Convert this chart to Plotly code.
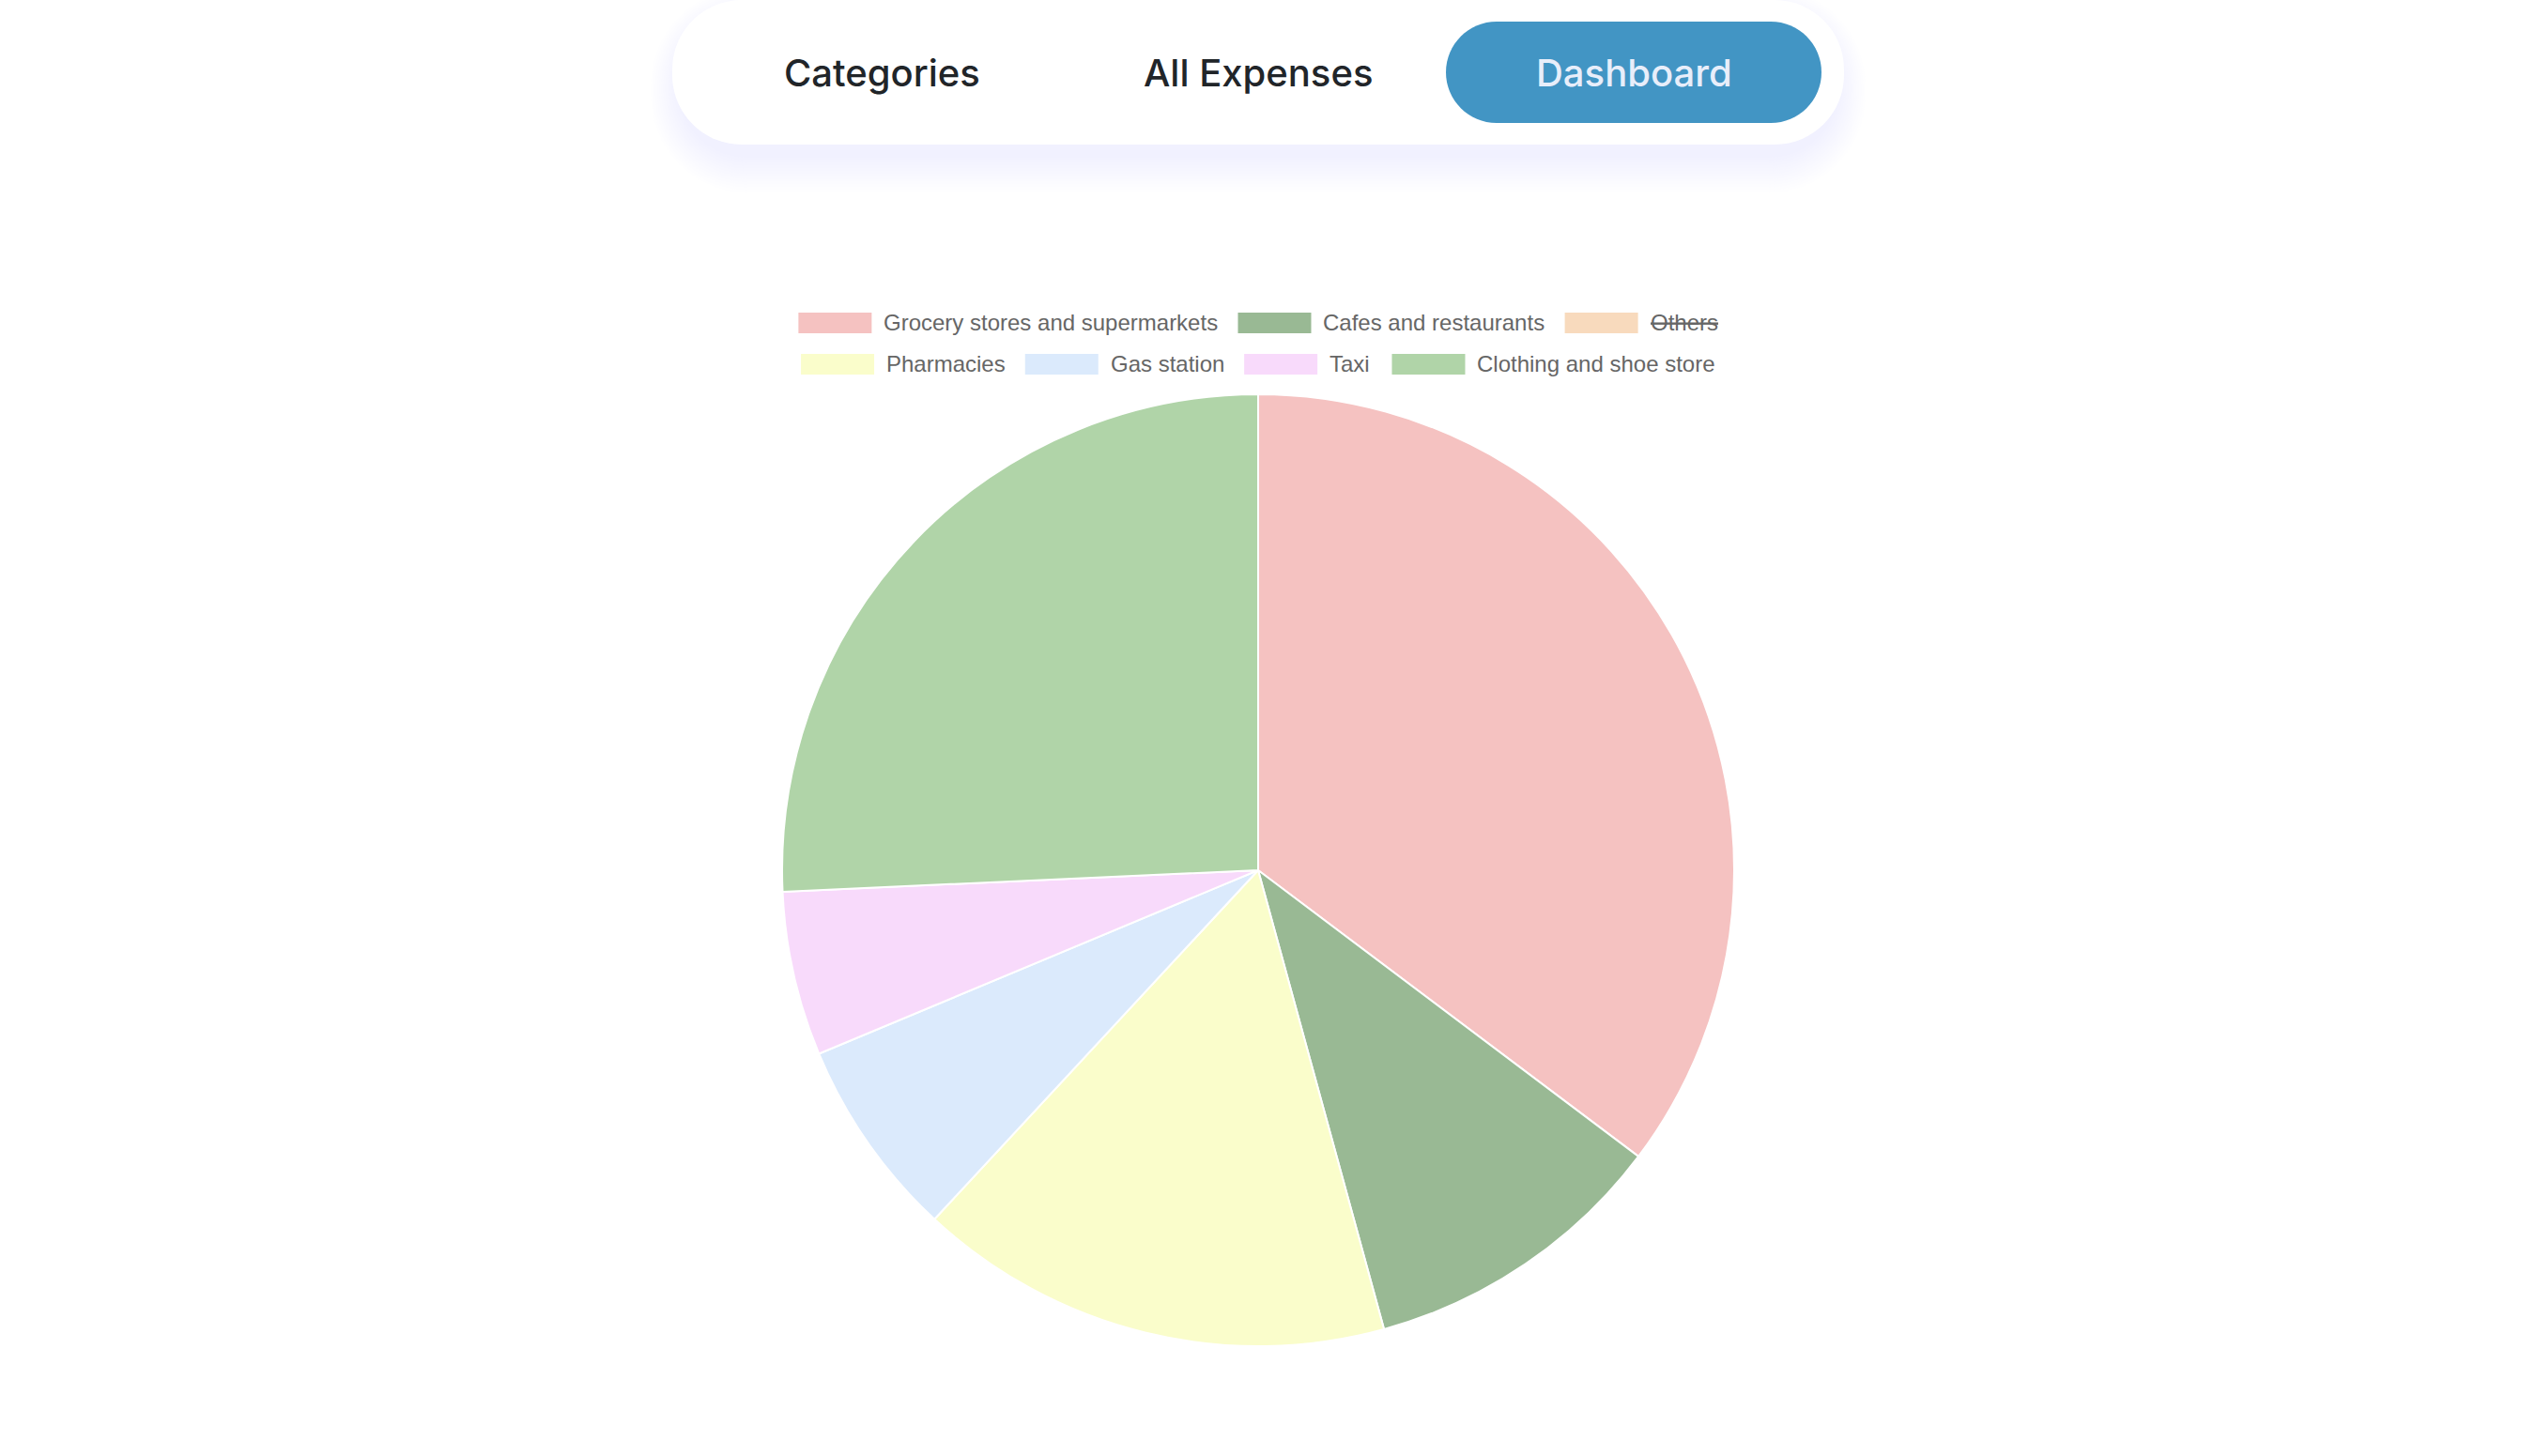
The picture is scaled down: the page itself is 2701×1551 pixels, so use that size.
import plotly.graph_objects as go

# ---------------- data ----------------
categories = ["Grocery stores and supermarkets", "Cafes and restaurants", "Others",
              "Pharmacies", "Gas station", "Taxi", "Clothing and shoe store"]
amounts = [3527, 1047, 1200, 1616, 680, 558, 2572]
slice_colors = ["#F5C2C1", "#99B994", "#F8DABD", "#FAFDCB", "#DBEAFC", "#F8DAFB", "#B0D4A8"]
hidden_categories = ["Others"]
nav_tabs = ["Categories", "All Expenses", "Dashboard"]
active_tab = "Dashboard"

# ---------------- layout constants (pixels) ----------------
W, H = 2701, 1551
PIE_CX, PIE_CY, PIE_R = 1340, 927, 507
NAV_BOX = (716, 0, 1964, 154, 74)
ACTIVE_BOX = (1540, 23, 1940, 131, 54)
TAB_CENTERS = [939, 1340, 1740]
TAB_Y = 77
LEG_FONT = 24
LEG_BOX_W, LEG_BOX_H = 78, 22
LEG_TEXT_PAD = 13
LEG_GAP = 21
LEG_MAX_W = 1100
LEG_ROW0_Y, LEG_ROW_STEP = 344, 44

ARIAL = {' ': 278, 'a': 556, 'b': 556, 'c': 500, 'd': 556, 'e': 556, 'f': 278, 'g': 556,
         'h': 556, 'i': 222, 'j': 222, 'k': 500, 'l': 222, 'm': 833, 'n': 556, 'o': 556,
         'p': 556, 'q': 556, 'r': 333, 's': 500, 't': 278, 'u': 556, 'v': 500, 'w': 722,
         'x': 500, 'y': 500, 'z': 500, 'A': 667, 'B': 667, 'C': 722, 'D': 722, 'E': 667,
         'F': 611, 'G': 778, 'H': 722, 'I': 278, 'J': 500, 'K': 667, 'L': 556, 'M': 833,
         'N': 722, 'O': 778, 'P': 667, 'Q': 778, 'R': 722, 'S': 667, 'T': 611, 'U': 722,
         'V': 667, 'W': 944, 'X': 667, 'Y': 667, 'Z': 611}


def text_w(s, size):
    return sum(ARIAL.get(ch, 556) for ch in s) * size / 1000.0


def pill(x0, y0, x1, y1, rad):
    k = 0.5523 * rad
    return (f"M{x0+rad},{y0} L{x1-rad},{y0} "
            f"C{x1-rad+k},{y0} {x1},{y0+rad-k} {x1},{y0+rad} "
            f"L{x1},{y1-rad} C{x1},{y1-rad+k} {x1-rad+k},{y1} {x1-rad},{y1} "
            f"L{x0+rad},{y1} C{x0+rad-k},{y1} {x0},{y1-rad+k} {x0},{y1-rad} "
            f"L{x0},{y0+rad} C{x0},{y0+rad-k} {x0+rad-k},{y0} {x0+rad},{y0} Z")


fig = go.Figure()

# invisible scaffold so the pixel-space axes exist
fig.add_trace(go.Scatter(x=[0], y=[0], mode="markers", marker=dict(opacity=0),
                         hoverinfo="skip", showlegend=False))

fig.add_trace(go.Pie(
    labels=categories,
    values=amounts,
    marker=dict(colors=slice_colors, line=dict(color="white", width=2)),
    sort=False,
    direction="clockwise",
    rotation=0,
    textinfo="none",
    showlegend=False,
    hoverinfo="label+value+percent",
    domain=dict(x=[(PIE_CX - PIE_R) / W, (PIE_CX + PIE_R) / W],
                y=[(H - PIE_CY - PIE_R) / H, (H - PIE_CY + PIE_R) / H]),
))

shapes = []
annotations = []

# nav bar shadow
x0, y0, x1, y1, rad = NAV_BOX
for k in range(14):
    g = 2.2 * k
    shapes.append(dict(type="path", xref="x", yref="y", layer="below",
                       path=pill(x0 + 6 - g, y0 + 16 - g, x1 - 6 + g, y1 + 14 + g * 1.3, rad + g),
                       fillcolor="rgba(195,198,242,0.02)", line=dict(width=0)))
shapes.append(dict(type="path", xref="x", yref="y", layer="below",
                   path=pill(x0, y0, x1, y1, rad), fillcolor="white", line=dict(width=0)))
ax0, ay0, ax1, ay1, arad = ACTIVE_BOX
shapes.append(dict(type="path", xref="x", yref="y", layer="below",
                   path=pill(ax0, ay0, ax1, ay1, arad), fillcolor="#4295C4",
                   line=dict(width=0)))

for tab, xc in zip(nav_tabs, TAB_CENTERS):
    active = tab == active_tab
    annotations.append(dict(
        x=xc, y=TAB_Y, xref="x", yref="y", text=tab, showarrow=False,
        xanchor="center", yanchor="middle",
        font=dict(family="Inter, Roboto, sans-serif", size=40, weight=500,
                  color="#E8EEFA" if active else "#212529")))

# legend (Chart.js-style flow layout, centred rows)
items = []
for lab, col in zip(categories, slice_colors):
    items.append((lab, col, LEG_BOX_W + LEG_TEXT_PAD + text_w(lab, LEG_FONT)))
rows, cur, cur_w = [], [], 0
for it in items:
    add = it[2] + (LEG_GAP if cur else 0)
    if cur and cur_w + add > LEG_MAX_W:
        rows.append((cur, cur_w))
        cur, cur_w = [], 0
        add = it[2]
    cur.append(it)
    cur_w += add
if cur:
    rows.append((cur, cur_w))

for ri, (row, row_w) in enumerate(rows):
    yc = LEG_ROW0_Y + ri * LEG_ROW_STEP
    xx = PIE_CX - row_w / 2
    for lab, col, w in row:
        shapes.append(dict(type="rect", xref="x", yref="y", layer="below",
                           x0=xx, x1=xx + LEG_BOX_W,
                           y0=yc - LEG_BOX_H / 2, y1=yc + LEG_BOX_H / 2,
                           fillcolor=col, line=dict(width=0)))
        txt = f"<s>{lab}</s>" if lab in hidden_categories else lab
        annotations.append(dict(
            x=xx + LEG_BOX_W + LEG_TEXT_PAD, y=yc - 1, xref="x", yref="y",
            text=txt, showarrow=False, xanchor="left", yanchor="middle",
            xshift=-2,
            font=dict(family="Liberation Sans, Arial, sans-serif", size=LEG_FONT,
                      color="#666666")))
        xx += w + LEG_GAP

fig.update_layout(
    width=W, height=H,
    margin=dict(l=0, r=0, t=0, b=0),
    paper_bgcolor="white", plot_bgcolor="white",
    xaxis=dict(range=[0, W], visible=False, fixedrange=True, domain=[0, 1]),
    yaxis=dict(range=[H, 0], visible=False, fixedrange=True, domain=[0, 1]),
    hiddenlabels=hidden_categories,
    shapes=shapes,
    annotations=annotations,
    showlegend=False,
)

fig.write_html("out.html")
